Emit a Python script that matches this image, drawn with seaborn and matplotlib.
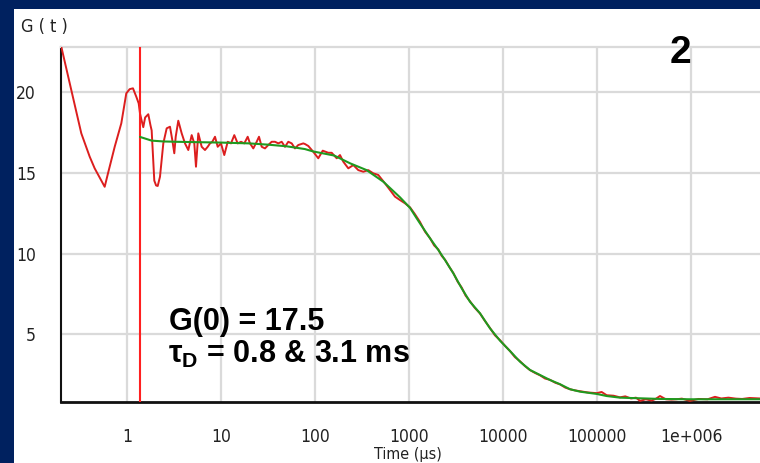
import numpy as np
import pandas as pd
import matplotlib
matplotlib.use("Agg")
import matplotlib.pyplot as plt
import seaborn as sns
from matplotlib import font_manager
from matplotlib.patches import Rectangle
from matplotlib.ticker import NullLocator

# ---------------- data ----------------
red_t = [0.200, 0.2555, 0.3265, 0.401, 0.453, 0.579, 0.628, 0.740, 0.870, 0.983,
         1.068, 1.158, 1.256, 1.332, 1.375, 1.419, 1.49, 1.56, 1.62, 1.685,
         1.78, 1.83, 1.952, 2.04, 2.122, 2.244, 2.434, 2.644, 2.867, 3.033,
         3.186, 3.298, 3.513, 3.818, 4.140, 4.489, 4.879, 5.200, 5.420, 5.735,
         6.232, 6.756, 7.221, 7.638, 8.083, 8.636, 9.224, 10.0, 10.84, 11.79,
         12.78, 13.85, 15.05, 16.32, 17.70, 19.23, 20.35, 22.06, 23.98, 25.37,
         27.10, 29.38, 31.86, 34.62, 37.54, 40.70, 44.22, 47.96, 52.00, 56.52,
         61.26, 66.43, 75.09, 78.29, 84.88, 95.9, 108.4, 120.8, 138.6, 150.5,
         170.2, 184.5, 200.0, 226.1, 255.6, 288.8, 326.5, 369.0, 417.1, 471.4,
         555.5, 628.0, 709.9, 802.4, 906.8, 1025, 1150, 1309, 1480, 1673,
         1850, 2050, 2230, 2415, 2700, 2960, 3300, 3636, 4000, 4456,
         5000, 5691, 6400, 7272, 8200, 9293, 10500, 11870, 13400, 15170,
         17100, 19375, 22000, 24750, 28000, 31620, 36000, 40410, 46000, 51630,
         58000, 65950, 80000, 99270, 112000, 126800, 150000, 175700, 200000, 230000,
         260000, 286700, 330000, 380000, 420000, 468000, 540000, 620000, 700000, 800000,
         975900, 1.2e6, 1.5e6, 1.8e6, 2.1e6, 2.5e6, 3.0e6, 3.5e6, 4.2e6, 5.4e6]
red_g = [22.77, 20.09, 17.42, 15.98, 15.26, 14.12, 14.95, 16.59, 18.04, 19.89,
         20.15, 20.20, 19.68, 19.27, 18.65, 18.30, 17.80, 18.40, 18.50, 18.60,
         17.90, 17.60, 14.50, 14.20, 14.17, 14.74, 16.80, 17.73, 17.83, 17.01,
         16.19, 17.21, 18.20, 17.42, 16.80, 16.39, 17.31, 16.80, 15.36, 17.42,
         16.59, 16.39, 16.59, 16.80, 16.90, 17.21, 16.59, 16.80, 16.08, 16.90,
         16.80, 17.31, 16.80, 16.90, 16.80, 17.21, 16.80, 16.49, 16.90, 17.21,
         16.59, 16.49, 16.70, 16.90, 16.90, 16.80, 16.90, 16.59, 16.90, 16.80,
         16.49, 16.70, 16.80, 16.76, 16.64, 16.28, 15.88, 16.35, 16.22, 16.22,
         15.88, 16.08, 15.67, 15.26, 15.46, 15.15, 15.05, 15.15, 14.95, 14.85,
         14.33, 13.92, 13.51, 13.30, 13.10, 12.85, 12.45, 11.95, 11.35, 10.95,
         10.50, 10.25, 9.85, 9.62, 9.15, 8.80, 8.25, 7.90, 7.40, 7.05,
         6.65, 6.30, 5.85, 5.40, 4.95, 4.65, 4.30, 3.98, 3.60, 3.35,
         3.05, 2.80, 2.62, 2.48, 2.28, 2.20, 2.02, 1.92, 1.72, 1.62,
         1.55, 1.50, 1.42, 1.38, 1.45, 1.25, 1.22, 1.12, 1.18, 1.05,
         1.10, 0.90, 1.00, 0.92, 1.02, 1.20, 1.00, 0.98, 1.00, 1.04,
         0.90, 1.02, 1.00, 1.15, 1.05, 1.10, 1.04, 1.02, 1.08, 1.05]

fit_t = [1.375, 1.83, 2.43, 3.3, 5.0, 10.0, 20.0, 31.9, 50.0, 78.0,
         96.0, 160.0, 236.0, 354.0, 534.0, 802.0, 1025, 1208, 1309, 1673,
         2050, 2415, 2960, 3636, 4456, 5691, 7272, 9293, 11870, 15170,
         19375, 24750, 31620, 40410, 51630, 65950, 99270, 126800, 175700, 286700,
         468000, 975900, 5.4e6]
fit_g = [17.20, 16.97, 16.92, 16.90, 16.88, 16.85, 16.80, 16.72, 16.62, 16.45,
         16.30, 16.05, 15.57, 15.15, 14.43, 13.47, 12.82, 12.17, 11.86, 10.94,
         10.22, 9.60, 8.78, 7.85, 7.02, 6.31, 5.38, 4.62, 3.98, 3.32,
         2.81, 2.50, 2.19, 1.93, 1.62, 1.47, 1.33, 1.20, 1.10, 1.06,
         1.02, 1.00, 1.00]

cursor_t = 1.375

x_tick_values = [1, 10, 100, 1000, 10000, 100000, 1000000]
x_tick_labels = ["1", "10", "100", "1000", "10000", "100000", "1e+006"]
y_tick_values = [5, 10, 15, 20]
y_tick_labels = ["5", "10", "15", "20"]

# ---------------- style ----------------
NAVY = "#00215f"
RED = "#dc1e1e"
GREEN = "#1f9a1f"
GRID = "#dadada"

sns.set_style("white")
plt.rcParams["font.family"] = ["Liberation Sans", "DejaVu Sans"]
plt.rcParams["mathtext.fontset"] = "custom"
plt.rcParams["mathtext.rm"] = "Liberation Sans:bold"
plt.rcParams["mathtext.it"] = "Liberation Sans:bold"
plt.rcParams["mathtext.bf"] = "Liberation Sans:bold"

names = {f.name for f in font_manager.fontManager.ttflist}
if "Liberation Sans Narrow" in names:
    TICK_FONT = dict(family="Liberation Sans Narrow")
else:
    TICK_FONT = dict(family="DejaVu Sans", stretch="condensed")

W, H = 760, 463
fig = plt.figure(figsize=(W / 100, H / 100), dpi=100, facecolor=NAVY)
fig.add_artist(Rectangle((14 / W, 0), 1, (H - 9) / H, transform=fig.transFigure,
                         facecolor="white", edgecolor="none", zorder=0))

ax = fig.add_axes([61 / W, (H - 401.7) / H, 1 - 61 / W, (401.7 - 46.7) / H])
ax.set_facecolor("white")

red_df = pd.DataFrame({"t": red_t, "G": red_g})
fit_df = pd.DataFrame({"t": fit_t, "G": fit_g})
sns.lineplot(data=red_df, x="t", y="G", ax=ax, color=RED, lw=1.4,
             estimator=None, sort=False, zorder=3)
ax.axvline(cursor_t, color="#ff2020", lw=1.5, zorder=4)
sns.lineplot(data=fit_df, x="t", y="G", ax=ax, color=GREEN, lw=1.5,
             estimator=None, sort=False, zorder=5)

ax.set_xscale("log")
ax.set_xlim(0.1986, 5.42e6)
ax.set_ylim(0.85, 22.77)
ax.set_xticks(x_tick_values)
ax.set_xticklabels(x_tick_labels)
ax.xaxis.set_minor_locator(NullLocator())
ax.set_yticks(y_tick_values)
ax.set_yticklabels(y_tick_labels)

ax.grid(True, color=GRID, lw=1.6)
ax.set_axisbelow(True)
ax.tick_params(axis="both", length=9, width=1.5, color="#333333",
               labelcolor="#222222", labelsize=12.5)
ax.tick_params(axis="x", pad=10)
ax.tick_params(axis="y", pad=9)
for lab in ax.get_xticklabels() + ax.get_yticklabels():
    lab.set_fontfamily(TICK_FONT["family"])
    if "stretch" in TICK_FONT:
        lab.set_fontstretch(TICK_FONT["stretch"])

for side in ["left", "bottom"]:
    ax.spines[side].set_color("#111111")
ax.spines["left"].set_linewidth(1.5)
ax.spines["bottom"].set_linewidth(2.0)
ax.spines["top"].set_color(GRID)
ax.spines["top"].set_linewidth(1.6)
ax.spines["right"].set_visible(False)

ax.set_ylabel("")
ax.set_xlabel("Time (µs)", fontsize=11.5, color="#222222", **TICK_FONT)
ax.xaxis.set_label_coords((408 - 61) / (W - 61), (401.7 - 454) / (401.7 - 46.7))
ax.xaxis.label.set_va("center")

def fx(px):
    return px / W

def fy(py):
    return 1 - py / H

fig.text(fx(21), fy(27), "G ( t )", ha="left", va="center", fontsize=13,
         color="#222222", **TICK_FONT)
fig.text(fx(680), fy(53), "2", ha="center", va="center", fontsize=28,
         fontweight="bold", color="black")
fig.text(fx(169), fy(330), "G(0) = 17.5", ha="left", va="baseline",
         fontsize=22, fontweight="bold", color="black")
fig.text(fx(168), fy(363), r"$\tau_{\mathrm{D}}$ = 0.8 & 3.1 ms", ha="left",
         va="baseline", fontsize=22, fontweight="bold", color="black")

fig.savefig("out.png", dpi=100, facecolor=NAVY)
